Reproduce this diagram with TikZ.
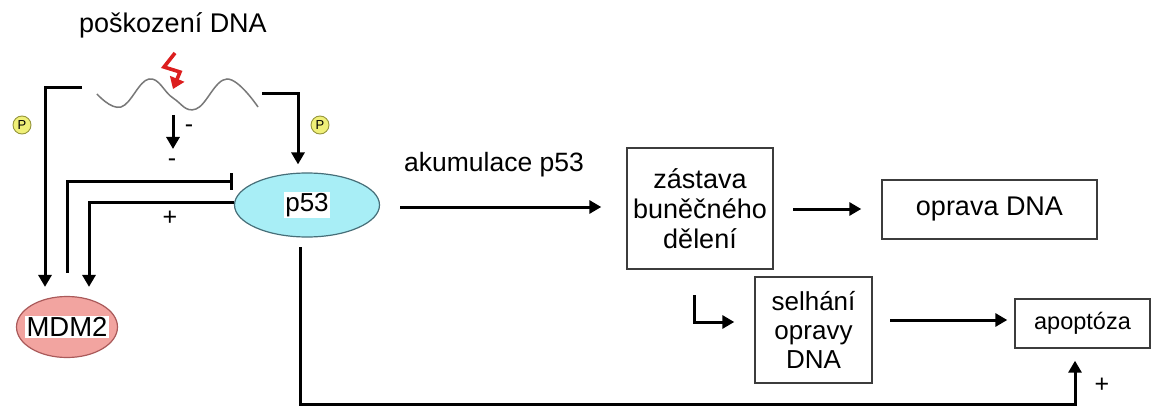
\documentclass[tikz,border=0pt]{standalone}
\usepackage{fontspec}
\setmainfont{Liberation Sans}
\usetikzlibrary{arrows.meta,calc,shapes.geometric}
\definecolor{mdmfill}{RGB}{242,164,160}
\definecolor{mdmline}{RGB}{170,90,90}
\definecolor{pfill}{RGB}{168,238,246}
\definecolor{pline}{RGB}{70,110,120}
\definecolor{phosfill}{RGB}{240,240,120}
\definecolor{phosline}{RGB}{150,150,60}
\definecolor{boxline}{RGB}{60,60,60}
\definecolor{wavecol}{RGB}{120,120,120}
\definecolor{boltcol}{RGB}{220,30,30}
\tikzset{
  txt/.style={font=\fontsize{27}{30}\selectfont, inner sep=0pt},
  arr/.style={line width=3pt, -{Triangle[length=12pt,width=13pt]}},
  inh/.style={line width=3pt, -{Bar[width=17pt,line width=3pt]}},
  stepbox/.style={draw=boxline, line width=1.4pt, align=center, inner sep=0pt,
    font=\fontsize{27}{30}\selectfont},
  prot/.style={ellipse, line width=1.2pt, inner sep=-8pt, font=\fontsize{26}{28}\selectfont},
  phos/.style={circle, draw=phosline, fill=phosfill, line width=0.9pt, minimum size=18pt,
    inner sep=0pt, font=\fontsize{13}{13}\selectfont},
  sign/.style={font=\fontsize{25}{28}\selectfont, inner sep=0pt}
}
\newcommand{\whitebg}[1]{{\setlength{\fboxsep}{1.5pt}\colorbox{white}{#1}}}
\begin{document}
\begin{tikzpicture}[x=1pt,y=-1pt]
\useasboundingbox (0,0) rectangle (1161,406);
\fill[white] (0,0) rectangle (1161,406);

% damage and DNA strand
\node[txt] (dmg) at (173,25) {poškození DNA};
\draw[wavecol, line width=1.5pt] plot[smooth, tension=0.7] coordinates
  {(97,94) (121,107) (149,79) (173,98) (196,109) (227,79) (258,107)};
\draw[boltcol, line width=3.6pt, line join=miter, -{Triangle[length=11pt,width=15pt]}]
  (175,53) -- (164,67) -- (180,72) -- (173,89);

% proteins
\node[prot, draw=mdmline, fill=mdmfill, minimum width=101pt, minimum height=61pt,
  font=\fontsize{27.5}{30}\selectfont] (mdm) at (67,327) {\whitebg{MDM2}};
\node[prot, draw=pline, fill=pfill, minimum width=145pt, minimum height=64pt]
  (p53) at (307,205) {\whitebg{p53}};

% phosphate marks
\node[phos] (pl) at (22,125) {P};
\node[phos] (pr) at (320,125) {P};

% end points of the feedback lines
\coordinate (lstart) at (82,88);
\coordinate (rstart) at (262,94);
\coordinate (mdmA) at ($(mdm.north)+(-22,-9)$);
\coordinate (mdmB) at ($(mdm.north)+(0,-23)$);
\coordinate (mdmC) at ($(mdm.north)+(22,-9)$);
\coordinate (inhEnd) at (233,182);
\coordinate (dnaDown) at (173,115);
\coordinate (dnaTip) at (173,149);

\draw[arr] (lstart) -| (mdmA);
\draw[arr] (rstart) -| ($(p53.north)+(-9,-8)$);
\draw[arr] (dnaDown) -- (dnaTip);
\node[sign] (m1) at (189,129) {-};
\node[sign] (m2) at (172,163) {-};
\draw[inh] (mdmB) |- (inhEnd);
\draw[arr] ($(p53.west)+(0,-3)$) -| (mdmC);
\node[sign] (plus1) at (170,218) {+};

% cell fate boxes
\node[stepbox, minimum width=146pt, minimum height=121pt] (zas) at (700,208.5)
  {zástava\\buněčného\\dělení};
\node[stepbox, minimum width=215pt, minimum height=59pt] (opr) at (989.5,209.5)
  {oprava DNA};
\node[stepbox, minimum width=117pt, minimum height=106pt,
  font=\fontsize{26}{29}\selectfont] (sel) at (813.5,330)
  {selhání\\opravy\\DNA};
\node[stepbox, minimum width=135pt, minimum height=49pt, font=\fontsize{23.5}{28}\selectfont]
  (apo) at (1082.5,323.5) {apoptóza};

\node[txt, font=\fontsize{26.5}{30}\selectfont] (akum) at (494,165) {akumulace p53};

% arrows between the stages
\coordinate (a1) at (400,207);
\draw[arr] (a1) -- ($(zas.west |- a1)+(-25,0)$);
\coordinate (a2) at (793,209);
\draw[arr] (a2) -- ($(opr.west |- a2)+(-20,0)$);
\coordinate (lfrom) at (694,295);
\draw[arr] (lfrom) |- ($(sel.west)+(-20,-8)$);
\coordinate (a3) at (890,320);
\draw[arr] (a3) -- ($(apo.west |- a3)+(-7,0)$);
\coordinate (p53low) at (300,247);
\draw[arr] (p53low) |- (1075,404) -- ($(apo.south)+(-7.5,12)$);
\node[sign] (plus2) at (1102,385) {+};
\end{tikzpicture}
\end{document}
